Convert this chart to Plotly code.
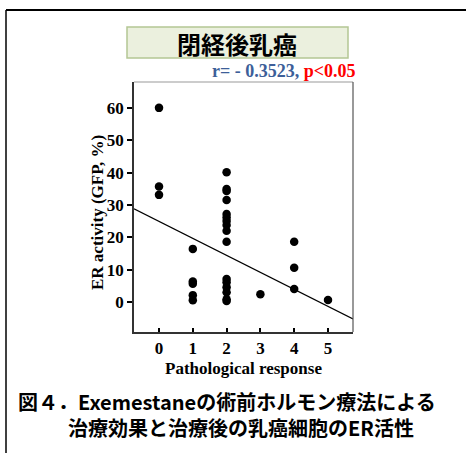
import plotly.graph_objects as go

# ---- data ----
response = [0, 0, 0,
            1, 1, 1, 1, 1,
            2, 2, 2, 2, 2, 2, 2, 2, 2, 2, 2, 2, 2, 2, 2, 2,
            3,
            4, 4, 4,
            5]
er_activity = [60.0, 35.7, 33.1,
               16.4, 6.3, 5.6, 2.1, 0.5,
               40.1, 34.9, 34.3, 31.5, 27.2, 26.1, 25.0, 23.8, 22.0, 18.6, 7.1, 6.1, 4.5, 3.0, 0.8, 0.3,
               2.4,
               18.6, 10.6, 4.0,
               0.6]
fit_intercept = 24.9
fit_slope = -5.25
x_ticks = [0, 1, 2, 3, 4, 5]
y_ticks = [0, 10, 20, 30, 40, 50, 60]
title_text = "閉経後乳癌"
r_text = "r= - 0.3523,"
p_text = "p<0.05"
x_label = "Pathological response"
y_label = "ER activity (GFP, %)"
caption1 = "図４．Exemestaneの術前ホルモン療法による"
caption2 = "治療効果と治療後の乳癌細胞のER活性"

W, H = 466, 453
L, R, T, B = 134, 353, 82, 332
XR = [-0.74, 5.74]
YR = [-9.3, 68.0]

def px(x):
    return (x - L) / (R - L)

def py(y):
    return (B - y) / (B - T)

fig = go.Figure()
fig.add_trace(go.Scatter(
    x=XR, y=[fit_intercept + fit_slope * v for v in XR],
    mode="lines", line=dict(color="black", width=1.2), hoverinfo="skip", showlegend=False))
fig.add_trace(go.Scatter(
    x=response, y=er_activity, mode="markers",
    marker=dict(color="black", size=8.5), showlegend=False))

serif = "Liberation Serif"
fig.update_xaxes(range=XR, tickvals=x_ticks, ticktext=[f"<b>{v}</b>" for v in x_ticks],
                 ticks="inside", ticklen=4, tickwidth=1.5,
                 tickcolor="black", showline=True, linecolor="#333", linewidth=1.5,
                 showgrid=False, zeroline=False,
                 tickfont=dict(family=serif, size=17, color="black"))
fig.update_yaxes(range=YR, tickvals=y_ticks, ticktext=[f"<b>{v}</b>" for v in y_ticks],
                 ticks="outside", ticklen=5, tickwidth=1.5,
                 tickcolor="black", showline=True, linecolor="#333", linewidth=1.5,
                 showgrid=False, zeroline=False,
                 tickfont=dict(family=serif, size=17, color="black"))

shapes = []
# plot box top/right gray borders
shapes.append(dict(type="line", xref="paper", yref="paper", x0=0, x1=1, y0=1, y1=1,
                   line=dict(color="#999", width=1.2)))
shapes.append(dict(type="line", xref="paper", yref="paper", x0=1, x1=1, y0=0, y1=1,
                   line=dict(color="#555", width=1.2)))
# outer frame
shapes.append(dict(type="line", xref="paper", yref="paper", x0=px(6), x1=px(470), y0=py(10), y1=py(10),
                   line=dict(color="black", width=2)))
shapes.append(dict(type="line", xref="paper", yref="paper", x0=px(6), x1=px(6), y0=py(10), y1=py(460),
                   line=dict(color="black", width=1.5)))
# title box
shapes.append(dict(type="rect", xref="paper", yref="paper", x0=px(127), x1=px(348), y0=py(58), y1=py(27),
                   fillcolor="#EBF0DE", line=dict(color="#B4C694", width=1.5), layer="below"))

ann = []
ann.append(dict(x=px(237), y=py(43), xref="paper", yref="paper", text=f"<b>{title_text}</b>", showarrow=False,
                font=dict(family="Noto Sans CJK JP", size=24, color="black"),
                xanchor="center", yanchor="middle"))
ann.append(dict(x=px(358), y=py(71), xref="paper", yref="paper",
                text=f"<b><span style='color:#3D5F99'>{r_text}</span> <span style='color:#FF0000'>{p_text}</span></b>",
                showarrow=False, font=dict(family=serif, size=18),
                xanchor="right", yanchor="middle"))
ann.append(dict(x=px(243), y=py(368), xref="paper", yref="paper", text=f"<b>{x_label}</b>", showarrow=False,
                font=dict(family=serif, size=17, color="black"),
                xanchor="center", yanchor="middle"))
ann.append(dict(x=px(97), y=py(213), xref="paper", yref="paper", text=f"<b>{y_label}</b>", showarrow=False,
                textangle=-90,
                font=dict(family=serif, size=17, color="black"),
                xanchor="center", yanchor="middle"))
indent = "&nbsp;" * 11
ann.append(dict(x=px(16), y=py(414), xref="paper", yref="paper",
                text=f"<b>{caption1}<br>{indent}{caption2}</b>", showarrow=False, align="left",
                font=dict(family="Noto Sans CJK JP", size=20, color="black"),
                xanchor="left", yanchor="middle"))

fig.update_layout(width=W, height=H, margin=dict(l=L, r=W - R, t=T, b=H - B),
                  paper_bgcolor="white", plot_bgcolor="white",
                  shapes=shapes, annotations=ann, showlegend=False)

fig.write_html("out.html")
